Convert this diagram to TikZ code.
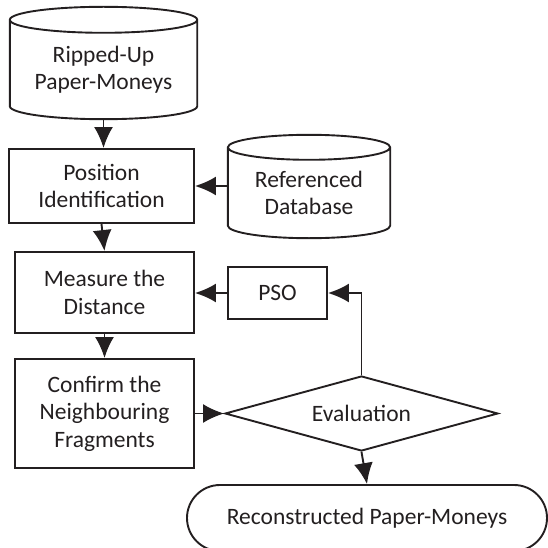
\documentclass[tikz,border=0pt]{standalone}
\usepackage{fontspec}
\setmainfont{Carlito}
\usetikzlibrary{arrows.meta, shapes.geometric, calc}

\definecolor{ink}{RGB}{35, 31, 32}

% Drum outline round a named node (#1), ellipse half height #2

\newcommand{\drumoutline}[2]{%
	\draw [draw = ink, line width = 1.9pt] let \p1 = (#1.north west), \p2 = (#1.south east), \n1 = {(\x2 - \x1) / 2} in
		(\p1) arc [start angle = 180, end angle = 0, x radius = \n1, y radius = #2pt]
		-- ({\x2}, {\y2 + #2pt}) arc [start angle = 0, end angle = -180, x radius = \n1, y radius = #2pt]
		-- cycle
		(\p1) arc [start angle = 180, end angle = 360, x radius = \n1, y radius = #2pt];
}

\begin{document}
\begin{tikzpicture}[> = {Latex[length = 21pt, width = 19pt]}, x = 1pt, y = 1pt,
	box/.style = {draw = ink, line width = 1.9pt, rectangle, align = center, inner sep = 0pt},
	drum/.style = {align = center, inner sep = 0pt},
	link/.style = {->, draw = ink, line width = 1.9pt},
	every node/.style = {font = \fontsize{23.5}{27.5}\selectfont, text = ink}]

% Definitions

\useasboundingbox (0, 0) rectangle (547, -548);

% Stored data

\node [drum, minimum width = 187pt, minimum height = 99pt] (ripped) at (103.5, -69.5) {Ripped-Up\\Paper-Moneys};
\drumoutline{ripped}{13}

\node [drum, minimum width = 162pt, minimum height = 90.5pt] (db) at (309, -192.75) {Referenced\\Database};
\drumoutline{db}{12.5}

% Process steps

\node [box, minimum width = 185pt, minimum height = 74pt] (pos) at (101.5, -186) {Position\\Identification};
\node [box, minimum width = 179pt, minimum height = 81pt] (meas) at (104.5, -292.5) {Measure the\\Distance};
\node [box, minimum width = 99pt, minimum height = 52pt] (pso) at (277.5, -293) {PSO};
\node [box, minimum width = 179pt, minimum height = 109pt] (conf) at (104.5, -413.5) {Confirm the\\Neighbouring\\Fragments};

% Decision and result

\node [box, diamond, aspect = 3.6, minimum width = 273pt, minimum height = 75pt] (eval) at (361.5, -413.5) {Evaluation};
\node [box, rounded corners = 33pt, minimum width = 360pt, minimum height = 66pt] (recon) at (367, -518) {Reconstructed Paper-Moneys};

% Arrows

\draw [link] (ripped.south) -- (ripped.south |- pos.north);
\draw [link] (db.west |- pos.east) -- (pos.east);
\draw [link] (pos.south) -- (meas.north);
\draw [link] (pso.west) -- (pso.west -| meas.east);
\draw [link] (meas.south) -- (conf.north);
\draw [link] (conf.east) -- (eval.west);
\draw [link] (eval.north) |- (pso.east);
\draw [link] (eval.south) -- (recon.north);

\end{tikzpicture}
\end{document}
